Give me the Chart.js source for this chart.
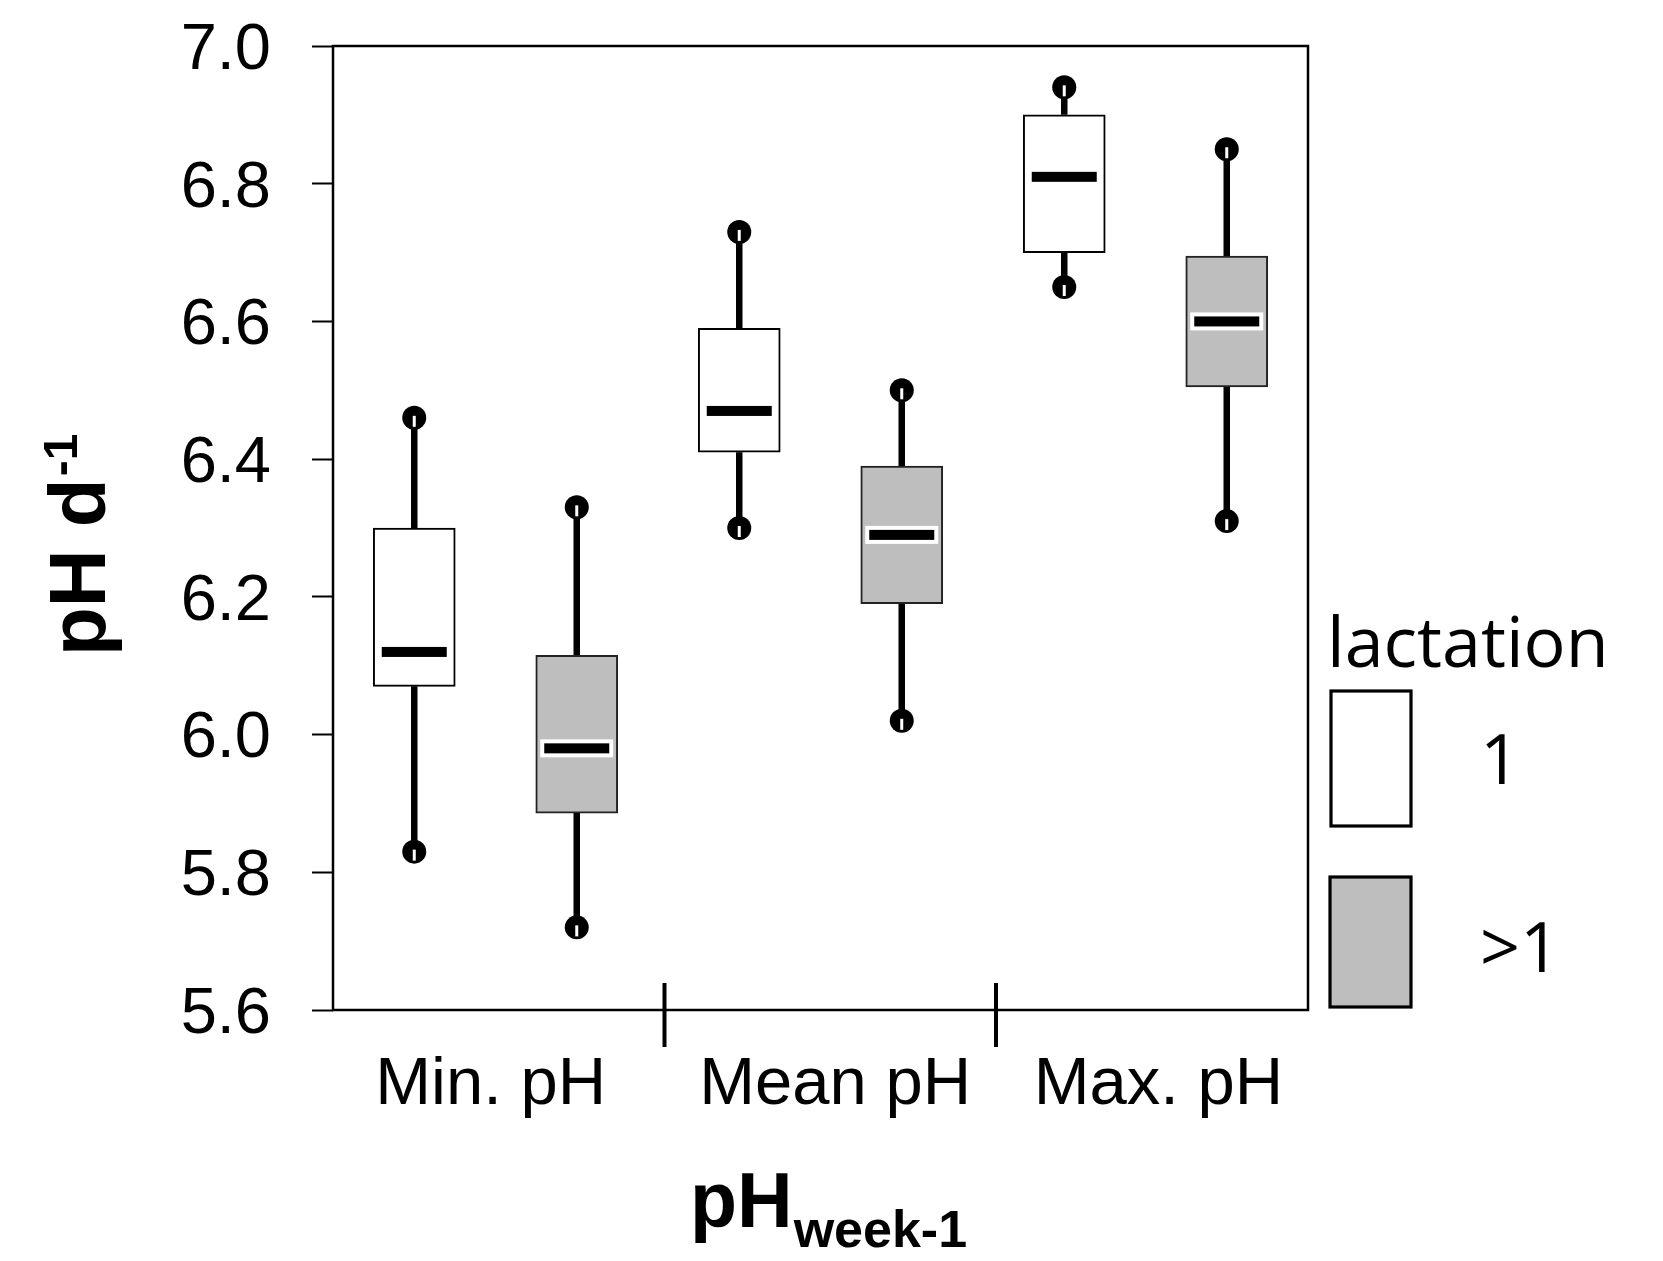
<!DOCTYPE html>
<html><head><meta charset="utf-8">
<script src="https://cdn.jsdelivr.net/npm/chart.js@4.4.0/dist/chart.umd.min.js"></script>
<style>html,body{margin:0;padding:0;background:#fff;} canvas{display:block;}</style>
</head><body>
<canvas id="c" width="1663" height="1261"></canvas>
<script>
// ---- data ----
const categories = ['Min. pH', 'Mean pH', 'Max. pH'];
const groupLabelPos = [1.47, 3.59, 5.58];
const separatorPos = [2.54, 4.58];
const lactationLabels = ['1', '>1'];
const yTicks = [5.6, 5.8, 6.0, 6.2, 6.4, 6.6, 6.8, 7.0];

const pos1 = [1, 3, 5];
const min1 = [5.83, 6.30, 6.65];
const q1_1 = [6.07, 6.41, 6.70];
const med1 = [6.12, 6.47, 6.81];
const q3_1 = [6.30, 6.59, 6.90];
const max1 = [6.46, 6.73, 6.94];

const pos2 = [2, 4, 6];
const min2 = [5.72, 6.02, 6.31];
const q1_2 = [5.886, 6.19, 6.505];
const med2 = [5.98, 6.29, 6.60];
const q3_2 = [6.115, 6.39, 6.695];
const max2 = [6.33, 6.50, 6.85];

// ---- styles ----
const GRAY = '#bebebe';
const FONT = "'Liberation Sans', Arial, Helvetica, sans-serif";
const LEGFONT = "'Open Sans', 'Noto Sans', sans-serif";

const series = [
  {label: lactationLabels[0], pos: pos1, min: min1, q1: q1_1, med: med1, q3: q3_1, max: max1, fill: '#ffffff', border: '#000000', halo: false},
  {label: lactationLabels[1], pos: pos2, min: min2, q1: q1_2, med: med2, q3: q3_2, max: max2, fill: GRAY, border: '#222222', halo: true}
];

const extras = {
  id: 'boxExtras',
  beforeDatasetsDraw(chart) {
    const ctx = chart.ctx, xs = chart.scales.x, ys = chart.scales.y;
    ctx.save();
    ctx.strokeStyle = '#000'; ctx.lineWidth = 6.5; ctx.lineCap = 'butt';
    series.forEach(s => s.pos.forEach((p, i) => {
      const x = xs.getPixelForValue(p);
      ctx.beginPath();
      ctx.moveTo(x, ys.getPixelForValue(s.q3[i])); ctx.lineTo(x, ys.getPixelForValue(s.max[i]));
      ctx.moveTo(x, ys.getPixelForValue(s.q1[i])); ctx.lineTo(x, ys.getPixelForValue(s.min[i]));
      ctx.stroke();
    }));
    ctx.restore();
  },
  afterDatasetsDraw(chart) {
    const ctx = chart.ctx, xs = chart.scales.x, ys = chart.scales.y;
    ctx.save();
    series.forEach(s => s.pos.forEach((p, i) => {
      const x = xs.getPixelForValue(p);
      [s.max[i], s.min[i]].forEach(v => {
        const y = ys.getPixelForValue(v);
        ctx.fillStyle = '#000';
        ctx.beginPath(); ctx.arc(x, y, 12, 0, Math.PI * 2); ctx.fill();
        ctx.fillStyle = '#fff';
        ctx.fillRect(x - 1.5, y - 2, 3, 11);
      });
      const ym = ys.getPixelForValue(s.med[i]);
      if (s.halo) {
        ctx.fillStyle = '#fff';
        ctx.fillRect(x - 36.5, ym - 9, 73, 18);
      }
      ctx.fillStyle = '#000';
      ctx.fillRect(x - 32.5, ym - 5, 65, 10);
    }));
    ctx.restore();
  },
  afterDraw(chart) {
    const ctx = chart.ctx, a = chart.chartArea, xs = chart.scales.x;
    ctx.save();
    ctx.strokeStyle = '#000'; ctx.lineWidth = 2.5;
    ctx.strokeRect(a.left, a.top, a.right - a.left, a.bottom - a.top);
    ctx.lineWidth = 4;
    separatorPos.forEach(v => {
      const x = xs.getPixelForValue(v);
      ctx.beginPath(); ctx.moveTo(x, a.bottom - 27); ctx.lineTo(x, a.bottom + 37); ctx.stroke();
    });
    // y title
    ctx.fillStyle = '#000';
    ctx.save();
    ctx.translate(105, 656);
    ctx.rotate(-Math.PI / 2);
    ctx.textAlign = 'left'; ctx.textBaseline = 'alphabetic';
    ctx.font = 'bold 80px ' + FONT;
    ctx.fillText('pH d', 0, 0);
    const w = ctx.measureText('pH d').width;
    ctx.font = 'bold 48px ' + FONT;
    ctx.fillText('-1', w + 2, -28);
    ctx.restore();
    // x title
    ctx.textAlign = 'left'; ctx.textBaseline = 'alphabetic';
    ctx.font = 'bold 77px ' + FONT;
    ctx.fillText('pH', 690, 1227);
    const w2 = ctx.measureText('pH').width;
    ctx.font = 'bold 52px ' + FONT;
    ctx.fillText('week-1', 690 + w2 + 1, 1247);
    // legend
    ctx.font = '70px ' + LEGFONT;
    ctx.fillText('lactation', 1327, 667);
    ctx.lineWidth = 3.2; ctx.strokeStyle = '#000';
    const boxes = [[1331, 691, 80, 135], [1330, 877, 81, 130]];
    series.forEach((s, k) => {
      const b = boxes[k];
      ctx.fillStyle = s.fill;
      ctx.fillRect(b[0], b[1], b[2], b[3]);
      ctx.strokeRect(b[0], b[1], b[2], b[3]);
    });
    ctx.fillStyle = '#000';
    ctx.font = '70px ' + LEGFONT;
    ctx.fillText(lactationLabels[0], 1480, 784);
    ctx.fillText(lactationLabels[1], 1480, 972);
    ctx.restore();
  }
};

new Chart(document.getElementById('c'), {
  type: 'bar',
  data: {
    datasets: series.map(s => ({
      label: s.label,
      data: s.pos.map((p, i) => ({x: p, y: [s.q1[i], s.q3[i]]})),
      backgroundColor: s.fill,
      borderColor: s.border,
      borderWidth: 2,
      borderSkipped: false,
      barThickness: 82,
      grouped: false
    }))
  },
  options: {
    responsive: false,
    devicePixelRatio: 1,
    animation: false,
    layout: {padding: {top: 46, right: 355, bottom: 0, left: 0}},
    plugins: {legend: {display: false}, tooltip: {enabled: false}},
    scales: {
      x: {
        type: 'linear', min: 0.5, max: 6.5, offset: false,
        afterFit(s) { s.height = 251; s.paddingLeft = 0; s.paddingRight = 0; },
        afterBuildTicks(s) { s.ticks = groupLabelPos.map(v => ({value: v})); },
        grid: {display: false},
        border: {display: false},
        ticks: {
          color: '#000', font: {family: FONT, size: 67}, padding: 27, maxRotation: 0, autoSkip: false,
          callback: (v, i) => categories[i]
        }
      },
      y: {
        type: 'linear', min: 5.6, max: 7.0,
        afterFit(s) { s.width = 333; s.paddingTop = 0; s.paddingBottom = 0; },
        afterBuildTicks(s) { s.ticks = yTicks.map(v => ({value: v})); },
        grid: {drawOnChartArea: false, drawTicks: true, tickLength: 21, tickWidth: 2, tickColor: '#000'},
        border: {display: false},
        ticks: {
          color: '#000', font: {family: FONT, size: 65}, padding: 41, labelOffset: 5, autoSkip: false,
          callback: v => v.toFixed(1)
        }
      }
    }
  },
  plugins: [extras]
});
</script></body></html>
